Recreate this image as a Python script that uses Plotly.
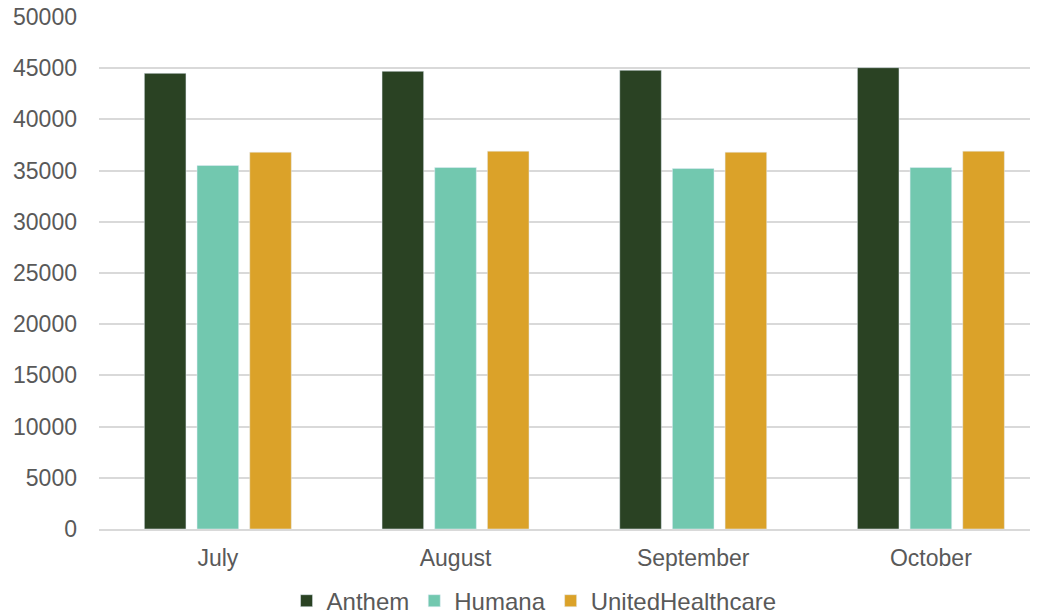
import plotly.graph_objects as go

months = ["July", "August", "September", "October"]
anthem = [44500, 44700, 44800, 45050]
humana = [35500, 35300, 35200, 35300]
united = [36800, 36900, 36800, 36900]
y_ticks = [0, 5000, 10000, 15000, 20000, 25000, 30000, 35000, 40000, 45000, 50000]

fig = go.Figure()
fig.add_bar(x=months, y=anthem, name="Anthem", marker_color="#2A4223")
fig.add_bar(x=months, y=humana, name="Humana", marker_color="#72C8AF")
fig.add_bar(x=months, y=united, name="UnitedHealthcare", marker_color="#DBA229")

fig.update_layout(
    width=1039, height=614,
    margin=dict(l=99, r=9, t=17, b=85, autoexpand=False),
    plot_bgcolor="white", paper_bgcolor="white",
    barmode="group", bargap=0.335, bargroupgap=0.21,
    font=dict(family="Liberation Sans, Arial, sans-serif", size=23, color="#595959"),
    showlegend=True,
    legend=dict(orientation="h", x=0.514, xanchor="center", xref="container",
                y=0.021, yanchor="middle", yref="container",
                font=dict(size=24, color="#595959"),
                itemwidth=30, tracegroupgap=0),
    xaxis=dict(range=[-0.5, 3.417], showgrid=False, showline=True, linecolor="#D9D9D9",
               linewidth=1.5, ticks="", ticklabelstandoff=8,
               tickfont=dict(size=23, color="#595959")),
    yaxis=dict(range=[0, 50000], tickvals=y_ticks, showgrid=True, gridcolor="#D9D9D9",
               gridwidth=1.5, zeroline=False, showline=False, ticks="",
               tickformat="d", ticklabelstandoff=21,
               tickfont=dict(size=23, color="#595959")),
)

fig.write_html("out.html")
